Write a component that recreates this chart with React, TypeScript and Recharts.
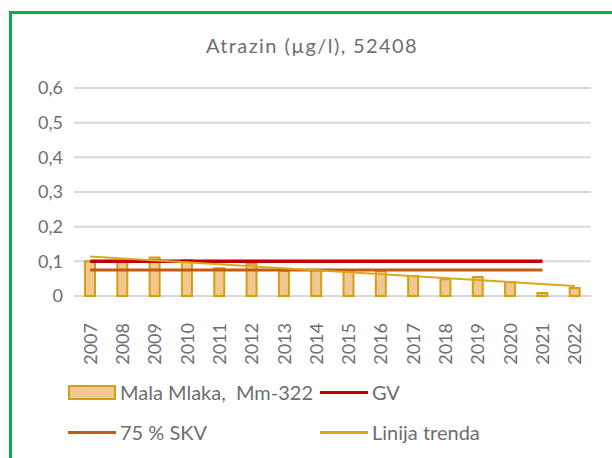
import React from "react"
import { ComposedChart, Bar, Line, XAxis, YAxis, CartesianGrid } from "recharts"

const years = ["2007", "2008", "2009", "2010", "2011", "2012", "2013", "2014", "2015", "2016", "2017", "2018", "2019", "2020", "2021", "2022"]
const malaMlaka = [0.1, 0.1, 0.111, 0.104, 0.08, 0.093, 0.072, 0.075, 0.07, 0.072, 0.058, 0.048, 0.055, 0.04, 0.009, 0.023]
const gv = [0.1, 0.1, 0.1, 0.1, 0.1, 0.1, 0.1, 0.1, 0.1, 0.1, 0.1, 0.1, 0.1, 0.1, 0.1, null]
const skv = [0.075, 0.075, 0.075, 0.075, 0.075, 0.075, 0.075, 0.075, 0.075, 0.075, 0.075, 0.075, 0.075, 0.075, 0.075, null]
const trend = [0.114, null, null, null, null, null, null, null, null, null, null, null, null, null, null, 0.029]
const yTicks = [0, 0.1, 0.2, 0.3, 0.4, 0.5, 0.6]

const data = years.map((year, i) => ({
  year,
  value: malaMlaka[i],
  gv: gv[i],
  skv: skv[i],
  trend: trend[i],
}))

const FONT = "Lato, 'Open Sans', sans-serif"
const TEXT = "#6e6e6e"
const BAR_FILL = "#f2c792"
const BAR_STROKE = "#d4a013"
const GV_COLOR = "#c00000"
const SKV_COLOR = "#c55a11"
const TREND_COLOR = "#d9a91c"

function YearTick({ x, y, payload }: any) {
  return (
    <text
      x={x}
      y={y + 19}
      transform={`rotate(-90, ${x}, ${y + 19})`}
      textAnchor="end"
      dy="0.36em"
      fill={TEXT}
      fontSize={18}
      fontFamily={FONT}
    >
      {payload.value}
    </text>
  )
}

function LegendItem({ left, top, label, kind, color }: { left: number; top: number; label: string; kind: "bar" | "line"; color: string }) {
  return (
    <div style={{ position: "absolute", left, top, display: "flex", alignItems: "center", height: 24 }}>
      {kind === "bar" ? (
        <div style={{ width: 44, height: 11, background: BAR_FILL, border: `2px solid ${BAR_STROKE}` }} />
      ) : (
        <div style={{ width: 48, height: 3, background: color }} />
      )}
      <span style={{ marginLeft: 4, fontSize: 20, color: TEXT, fontFamily: FONT, whiteSpace: "pre" }}>{label}</span>
    </div>
  )
}

export default function App() {
  return (
    <div style={{ position: "absolute", left: 0, top: 0, width: 612, height: 458, overflow: "hidden", background: "#fff" }}>
      <div
        style={{
          position: "absolute",
          left: 9,
          top: 11,
          width: 700,
          height: 600,
          borderTop: "3px solid #00b050",
          borderLeft: "3px solid #00b050",
        }}
      />
      <div
        style={{
          position: "absolute",
          left: 0,
          width: 624,
          top: 33,
          textAlign: "center",
          fontSize: 20,
          letterSpacing: 1.4,
          color: TEXT,
          fontFamily: FONT,
        }}
      >
        Atrazin (µg/l), 52408
      </div>
      <div style={{ position: "absolute", left: 0, top: 0 }}>
        <ComposedChart width={612} height={458} data={data} margin={{ top: 88, right: 21, bottom: 102, left: 0 }}>
          <CartesianGrid vertical={false} stroke="#d9d9d9" strokeWidth={2} />
          <XAxis
            dataKey="year"
            axisLine={false}
            tickLine={false}
            interval={0}
            height={60}
            tick={<YearTick />}
          />
          <YAxis
            domain={[0, 0.6]}
            ticks={yTicks}
            width={74}
            axisLine={false}
            tickLine={false}
            tickMargin={5}
            tickFormatter={(v: number) => String(Number(v.toFixed(1))).replace(".", ",")}
            tick={{ fill: TEXT, fontSize: 18, fontFamily: FONT }}
          />
          <Bar dataKey="value" barSize={10} fill={BAR_FILL} stroke={BAR_STROKE} strokeWidth={2} isAnimationActive={false} />
          <Line dataKey="gv" stroke={GV_COLOR} strokeWidth={3.5} dot={false} isAnimationActive={false} />
          <Line dataKey="skv" stroke={SKV_COLOR} strokeWidth={3} dot={false} isAnimationActive={false} />
          <Line dataKey="trend" stroke={TREND_COLOR} strokeWidth={2} dot={false} connectNulls isAnimationActive={false} />
        </ComposedChart>
      </div>
      <LegendItem left={68} top={380} label="Mala Mlaka,  Mm-322" kind="bar" color={BAR_STROKE} />
      <LegendItem left={320} top={380} label="GV" kind="line" color={GV_COLOR} />
      <LegendItem left={68} top={420} label="75 % SKV" kind="line" color={SKV_COLOR} />
      <LegendItem left={320} top={420} label="Linija trenda" kind="line" color={TREND_COLOR} />
    </div>
  )
}
